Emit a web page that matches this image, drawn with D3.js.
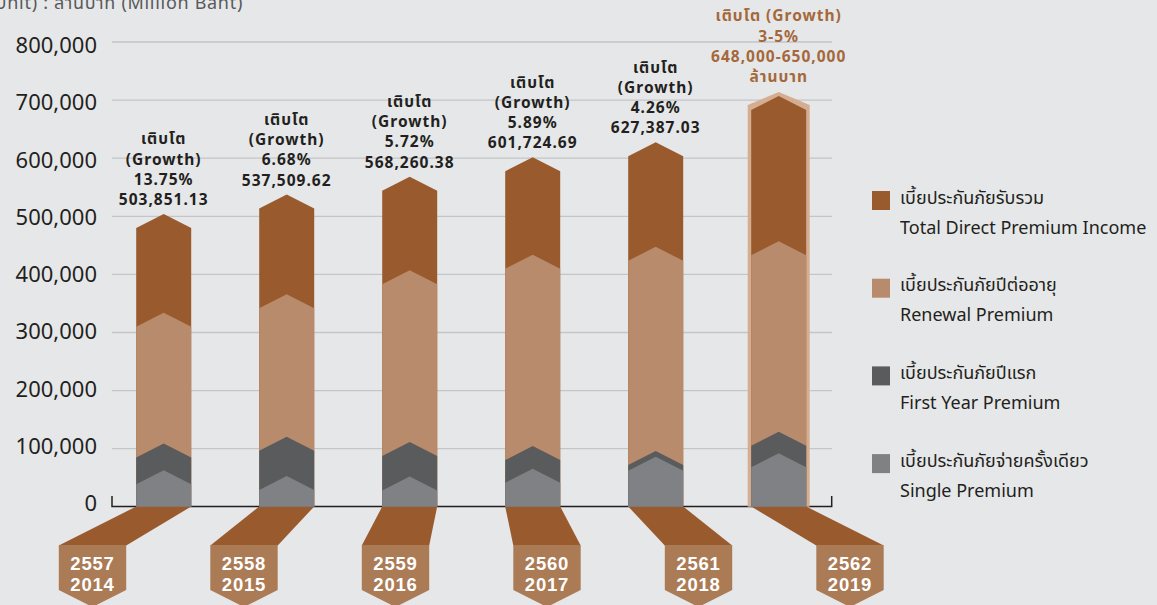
<!DOCTYPE html>
<html>
<head>
<meta charset="utf-8">
<script src="https://cdn.jsdelivr.net/npm/d3@7"></script>
<style>
  body { margin: 0; background: #e6e7e8; }
  svg { display: block; font-family: "Noto Sans", "Noto Sans Thai", sans-serif; }
</style>
</head>
<body>
<div id="canvas"></div>
<script>
// values (million baht)
const yearsBE = ["2557", "2558", "2559", "2560", "2561", "2562"];
const yearsAD = ["2014", "2015", "2016", "2017", "2018", "2019"];
const totalPremium = [503851.13, 537509.62, 568260.38, 601724.69, 627387.03, 707000];
const renewalPremium = [334000, 366000, 407000, 434000, 447500, 457000];
const firstYearPremium = [109000, 120500, 111500, 104500, 96000, 129000];
const singlePremium = [63000, 53000, 52000, 65500, 86000, 92000];
const growthText = ["13.75%", "6.68%", "5.72%", "5.89%", "4.26%", "3-5%"];
const totalText = ["503,851.13", "537,509.62", "568,260.38", "601,724.69", "627,387.03", "648,000-650,000"];
const yTicks = [0, 100000, 200000, 300000, 400000, 500000, 600000, 700000, 800000];

const legendItems = [
    {th: "เบี้ยประกันภัยรับรวม", en: "Total Direct Premium Income", color: "#995b2e"},
    {th: "เบี้ยประกันภัยปีต่ออายุ", en: "Renewal Premium", color: "#b88b6c"},
    {th: "เบี้ยประกันภัยปีแรก", en: "First Year Premium", color: "#5a5b5d"},
    {th: "เบี้ยประกันภัยจ่ายครั้งเดียว", en: "Single Premium", color: "#808184"}
];

const width = 1157, height = 605;
const colTotal = "#995b2e", colRenew = "#b88b6c", colFirst = "#5a5b5d", colSingle = "#808184";

let svg = d3.select("#canvas").append("svg").attr("width", width).attr("height", height);
svg.append("rect").attr("width", width).attr("height", height).attr("fill", "#e6e7e8");

var x = d3.scalePoint().domain(yearsAD).range([163.7, 778.7]);
var xBadge = d3.scalePoint().domain(yearsAD).range([92.5, 850]);
var y = d3.scaleLinear().domain([0, 800000]).range([506.8, 42]);
// tick labels sit on a slightly tighter spacing than the gridlines
var yLabel = d3.scaleLinear().domain([0, 800000]).range([503.5, 45.5]);

// unit title (cut at the page edge as in the original)
svg.append("text")
    .attr("x", 243).attr("y", 9)
    .attr("text-anchor", "end")
    .attr("font-size", 18).attr("letter-spacing", 0.7).attr("fill", "#58595b")
    .text("(Unit) : ล้านบาท (Million Baht)");

// gridlines
svg.append("g").selectAll("line")
    .data(yTicks.filter(t => t > 0))
    .enter().append("line")
    .attr("x1", 112).attr("x2", 832)
    .attr("y1", d => y(d)).attr("y2", d => y(d))
    .attr("stroke", "#c4c5c7").attr("stroke-width", 1.3);

// y axis labels
let yAxis = svg.append("g")
    .attr("transform", "translate(100,0)")
    .call(d3.axisLeft(yLabel).tickValues(yTicks).tickFormat(d3.format(",")).tickSize(0).tickPadding(3));
yAxis.select(".domain").remove();
yAxis.selectAll("text").attr("font-size", 22).attr("fill", "#231f20")
    .attr("font-family", "'Noto Sans', sans-serif");

// base axis with end ticks
svg.append("path")
    .attr("d", "M112,496V506.5H831.7V496")
    .attr("fill", "none").attr("stroke", "#231f20").attr("stroke-width", 1.5);

const halfW = 27.5, notch = 14;
function chevron(cx, v, hw, up, nt) {
    let top = y(v) - up;
    return "M" + (cx - hw) + "," + y(0) + "V" + (top + nt) + "L" + cx + "," + top +
        "L" + (cx + hw) + "," + (top + nt) + "V" + y(0) + "Z";
}

// connectors + badges
let badges = svg.append("g");
yearsAD.forEach((yr, i) => {
    let cx = x(yr), bx = xBadge(yr), bw = 33.7;
    badges.append("path")
        .attr("d", "M" + (cx - halfW) + ",506.5L" + (cx + halfW) + ",506.5L" + (bx + bw) + ",545.5L" + (bx - bw) + ",545.5Z")
        .attr("fill", colTotal);
    badges.append("path")
        .attr("d", "M" + (bx - bw) + ",545V590L" + bx + ",607L" + (bx + bw) + ",590V545Z")
        .attr("fill", "#ab7b56");
    [yearsBE[i], yr].forEach((s, k) => {
        badges.append("text").attr("x", bx).attr("y", 570 + k * 20.7)
            .attr("text-anchor", "middle").attr("font-size", 18.5).attr("font-weight", "bold")
            .attr("font-family", "'Liberation Sans', sans-serif")
            .attr("letter-spacing", 0.8).attr("fill", "#ffffff").text(s);
    });
});

// outline for the forecast year
let last = yearsAD.length - 1;
svg.append("path")
    .attr("d", chevron(x(yearsAD[last]), totalPremium[last], 31, 4, 13))
    .attr("fill", "#d5ae92");

// overlapping bars drawn from zero, largest first
const series = [
    {vals: totalPremium, color: colTotal},
    {vals: renewalPremium, color: colRenew},
    {vals: firstYearPremium, color: colFirst},
    {vals: singlePremium, color: colSingle}
];
series.forEach(s => {
    svg.append("g").selectAll("path")
        .data(yearsAD)
        .enter().append("path")
        .attr("d", (d, i) => chevron(x(d), s.vals[i], halfW, 0, notch))
        .attr("fill", s.color);
});

// growth labels
yearsAD.forEach((yr, i) => {
    let cx = x(yr);
    let base = y(totalPremium[i]) - 9;
    let lines, color;
    if (i === last) {
        lines = ["เติบโต (Growth)", growthText[i], totalText[i], "ล้านบาท"];
        color = "#a4683b";
        base = y(totalPremium[i]) - 14;
    } else {
        lines = ["เติบโต", "(Growth)", growthText[i], totalText[i]];
        color = "#231f20";
    }
    let t = svg.append("text").attr("text-anchor", "middle")
        .attr("font-size", 15.5).attr("font-weight", "bold")
        .attr("letter-spacing", 1).attr("fill", color);
    lines.forEach((l, k) => {
        t.append("tspan").attr("x", cx).attr("y", base - (lines.length - 1 - k) * 20.2).text(l);
    });
});

// legend
let legend = svg.append("g");
legendItems.forEach((d, i) => {
    let ly = 191 + i * 87.7;
    legend.append("rect").attr("x", 872).attr("y", ly).attr("width", 18).attr("height", 19).attr("fill", d.color);
    legend.append("text").attr("x", 900).attr("y", ly + 12.5)
        .attr("font-size", 18).attr("fill", "#231f20").text(d.th);
    legend.append("text").attr("x", 900).attr("y", ly + 42.5)
        .attr("font-size", 18).attr("fill", "#231f20").text(d.en);
});
</script>
</body>
</html>
